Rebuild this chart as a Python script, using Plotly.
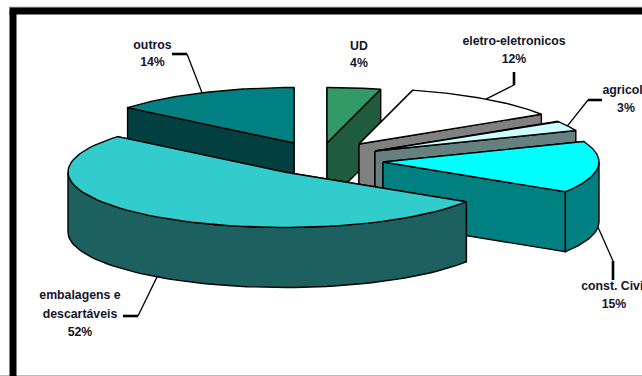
import math
import plotly.graph_objects as go

# --- data -----------------------------------------------------------------
categories = ["UD", "eletro-eletronicos", "agricola", "const. Civil",
              "embalagens e descartáveis", "outros"]
values = [4, 12, 3, 15, 52, 14]
label_lines = [["UD", "4%"], ["eletro-eletronicos", "12%"], ["agricola", "3%"],
               ["const. Civil", "15%"], ["embalagens e", "descartáveis", "52%"],
               ["outros", "14%"]]

# --- styling / layout ------------------------------------------------------
top_colors = ["#339966", "#FFFFFF", "#CCFFFF", "#00FFFF", "#33CCCC", "#008080"]
side_colors = ["#1E5C3D", "#808080", "#668080", "#008080", "#1C6060", "#004040"]
apex = [(327, 143), (359, 144), (375, 151), (383, 162), (284, 172), (294, 143)]
RX, RY, DEPTH = 216, 55.5, 60
paint_order = [5, 0, 1, 2, 3, 4]
label_x = [359, 514, 626, 614, 80, 152.5]
label_y = [[47, 64], [42, 60], [91, 109], [287, 305], [296, 315, 333], [46, 63]]
# leader elbow and end, relative to the slice's rim mid-point
leaders = {1: ((514, 85), (514, 72)), 2: ((588, 100), (602, 100)),
           3: ((613, 261), (613, 280)), 4: ((138, 316), (123, 316)),
           5: ((187, 54), (172, 54))}
FONT = dict(family="Liberation Sans", size=12.3, color="#14142a")


def point(i, theta, drop=0.0):
    ax, ay = apex[i]
    return ax + RX * math.sin(theta), ay - RY * math.cos(theta) + drop


def arc(i, a, b, drop=0.0, n=70):
    return [point(i, a + (b - a) * k / n, drop) for k in range(n + 1)]


def poly(fig, pts, fill):
    xs = [p[0] for p in pts] + [pts[0][0]]
    ys = [p[1] for p in pts] + [pts[0][1]]
    fig.add_trace(go.Scatter(x=xs, y=ys, mode="lines", fill="toself", fillcolor=fill,
                             line=dict(color="black", width=1.4), hoverinfo="skip",
                             showlegend=False))


total = sum(values)
edges = [0.0]
for v in values:
    edges.append(edges[-1] + v / total * 2 * math.pi)

fig = go.Figure()

for i in paint_order:
    a, b = edges[i], edges[i + 1]
    ax, ay = apex[i]
    for t in (a, b):
        r = point(i, t)
        poly(fig, [(ax, ay), r, (r[0], r[1] + DEPTH), (ax, ay + DEPTH)], side_colors[i])
    lo, hi = max(a, math.pi / 2), min(b, 3 * math.pi / 2)
    if lo < hi:
        poly(fig, arc(i, lo, hi) + arc(i, hi, lo, DEPTH), side_colors[i])
    poly(fig, [(ax, ay)] + arc(i, a, b), top_colors[i])

for i, (elbow, end) in leaders.items():
    mid = (edges[i] + edges[i + 1]) / 2
    drop = DEPTH if math.cos(mid) < 0 else 0
    start = point(i, mid, drop)
    fig.add_trace(go.Scatter(x=[start[0], elbow[0]], y=[start[1], elbow[1]], mode="lines",
                             line=dict(color="black", width=1.3), hoverinfo="skip",
                             showlegend=False))
    fig.add_trace(go.Scatter(x=[elbow[0], end[0]], y=[elbow[1], end[1]], mode="lines",
                             line=dict(color="black", width=2.6), hoverinfo="skip",
                             showlegend=False))

for i, lines in enumerate(label_lines):
    fig.add_trace(go.Scatter(x=[label_x[i]] * len(lines), y=label_y[i], mode="text",
                             text=[f"<b>{s}</b>" for s in lines], textposition="middle center",
                             textfont=FONT, cliponaxis=False, hoverinfo="skip",
                             showlegend=False, name=categories[i]))

fig.update_layout(
    width=642, height=376, margin=dict(l=0, r=0, t=0, b=0),
    paper_bgcolor="white", plot_bgcolor="white", showlegend=False,
    xaxis=dict(range=[0, 642], visible=False, fixedrange=True),
    yaxis=dict(range=[376, 0], visible=False, fixedrange=True),
    shapes=[
        dict(type="line", x0=9, x1=642, y0=7.2, y1=7.2, line=dict(color="#999999", width=1), layer="below"),
        dict(type="line", x0=0, x1=642, y0=375.5, y1=375.5, line=dict(color="#BBBBBB", width=1), layer="below"),
        dict(type="line", x0=13, x1=13, y0=11, y1=376, line=dict(color="black", width=7), layer="below"),
        dict(type="line", x0=9.5, x1=642, y0=11, y1=11, line=dict(color="black", width=7), layer="below"),
    ],
)

fig.write_html("out.html", config={"displayModeBar": False},
               post_script="document.body.style.margin='0';document.body.style.overflow='hidden';")
